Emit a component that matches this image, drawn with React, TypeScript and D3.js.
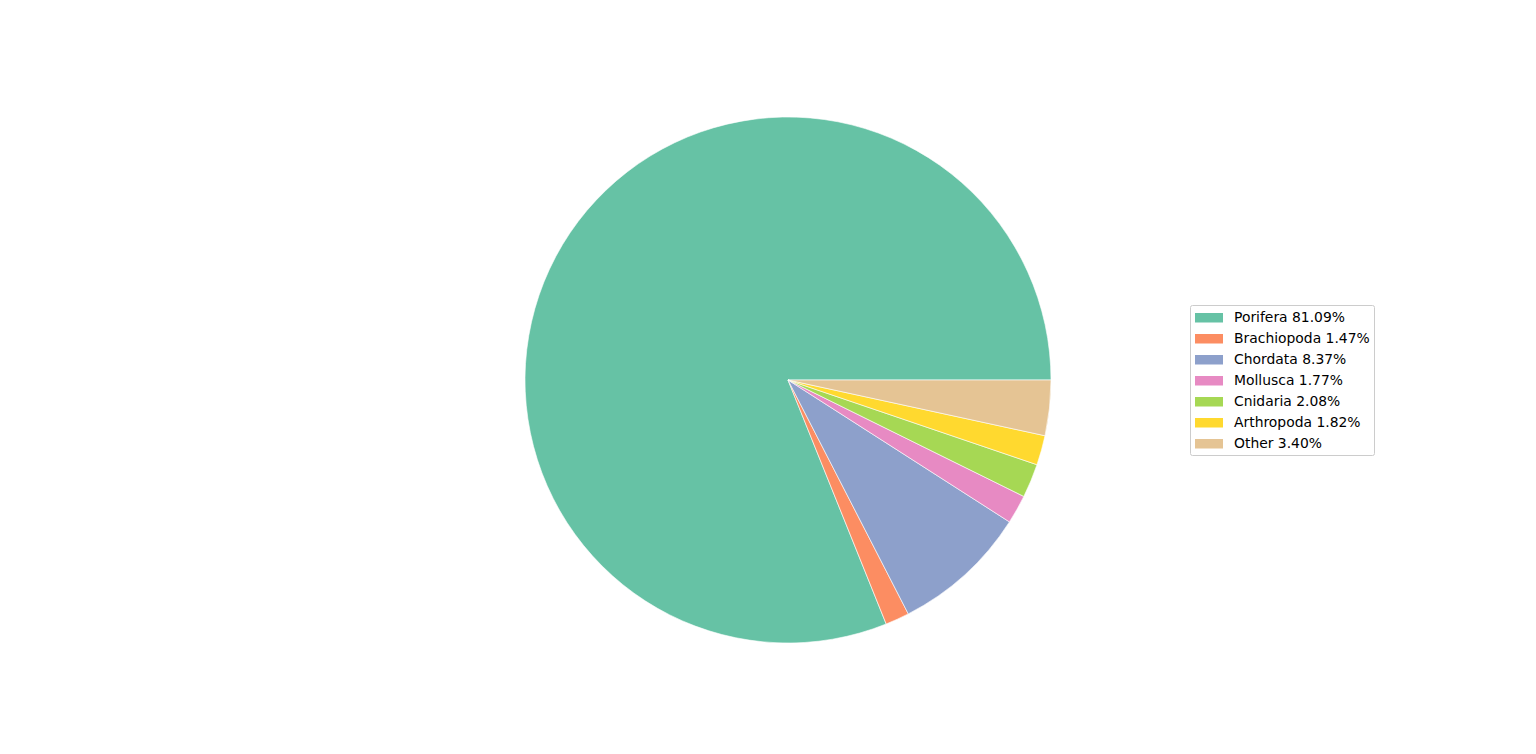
import React from "react";
import * as d3 from "d3";

const categories = ["Porifera", "Brachiopoda", "Chordata", "Mollusca", "Cnidaria", "Arthropoda", "Other"];
const values = [81.09, 1.47, 8.37, 1.77, 2.08, 1.82, 3.4];
const colors = ["#66c2a5", "#fc8d62", "#8da0cb", "#e78ac3", "#a6d854", "#ffd92f", "#e5c494"];

export default function App() {
  const W = 1536, H = 754;
  const cx = 788, cy = 380, r = 263;
  const pie = d3
    .pie<number>()
    .sort(null)
    .startAngle(Math.PI / 2)
    .endAngle(Math.PI / 2 - 2 * Math.PI);
  const arcs = pie(values);
  const arc = d3.arc<d3.PieArcDatum<number>>().innerRadius(0).outerRadius(r);
  const lx = 1190.5, ly = 305.5, lw = 184, lh = 150;
  const rowY = d3.scaleLinear().domain([0, 1]).range([317, 338]);
  return (
    <div style={{ position: "absolute", left: 0, top: 0 }}>
      <svg width={W} height={H} style={{ display: "block" }} fontFamily="DejaVu Sans">
        <rect width={W} height={H} fill="white" />
        <g transform={`translate(${cx},${cy})`}>
          {arcs.map((a, i) => (
            <path key={i} d={arc(a) || ""} fill={colors[i]} stroke="white" strokeWidth={0.6} strokeLinejoin="round" />
          ))}
        </g>
        <rect x={lx} y={ly} width={lw} height={lh} rx={2} fill="white" fillOpacity={0.8} stroke="#cccccc" strokeWidth={1} />
        {categories.map((c, i) => {
          const y = rowY(i);
          return (
            <g key={c}>
              <rect x={1195} y={y - 4} width={28} height={9.5} fill={colors[i]} />
              <text x={1234} y={y} dy="0.36em" fontSize={13.9} fill="black">
                {`${c} ${values[i].toFixed(2)}%`}
              </text>
            </g>
          );
        })}
      </svg>
    </div>
  );
}
